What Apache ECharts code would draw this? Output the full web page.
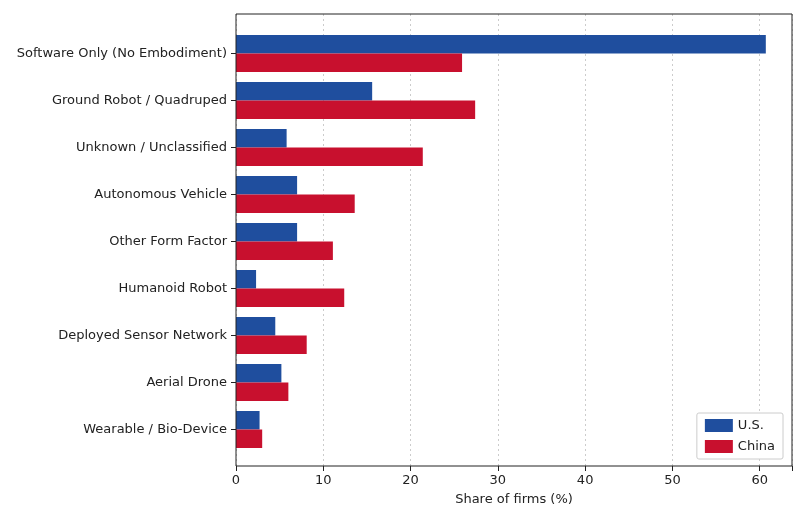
<!DOCTYPE html>
<html><head><meta charset="utf-8">
<script src="https://cdn.jsdelivr.net/npm/echarts@6/dist/echarts.min.js"></script>
<style>html,body{margin:0;background:#fff}#c{width:807px;height:527px}</style>
</head><body><div id="c"></div>
<script>
const categories=["Software Only (No Embodiment)","Ground Robot / Quadruped","Unknown / Unclassified","Autonomous Vehicle","Other Form Factor","Humanoid Robot","Deployed Sensor Network","Aerial Drone","Wearable / Bio-Device"];
const usValues=[60.7,15.6,5.8,7.0,7.0,2.3,4.5,5.2,2.7];
const chinaValues=[25.9,27.4,21.4,13.6,11.1,12.4,8.1,6.0,3.0];
const xTicks=[0,10,20,30,40,50,60];
const chart=echarts.init(document.getElementById('c'));
const font='DejaVu Sans';
const lab={fontFamily:font,fontSize:13,color:'#222'};
chart.setOption({
 animation:false,
 textStyle:{fontFamily:font},
 grid:[
  {left:236,right:15,top:30,bottom:74},
  {left:236,right:15,top:14,bottom:61,show:true,borderColor:'#222',borderWidth:1,z:10,backgroundColor:'transparent'}
 ],
 legend:{data:['U.S.','China'],orient:'vertical',right:24,bottom:68,icon:'rect',itemWidth:28,itemHeight:13,itemGap:8,
  textStyle:lab,borderColor:'#ccc',borderWidth:1,borderRadius:2,padding:[6,8],backgroundColor:'#fff'},
 xAxis:[
  {gridIndex:0,type:'value',min:0,max:63.7,show:false},
  {gridIndex:1,type:'value',min:0,max:63.7,interval:10,name:'Share of firms (%)',nameLocation:'middle',nameGap:27,
   nameTextStyle:lab,axisLabel:{...lab,formatter:v=>xTicks.includes(v)?String(v):''},
   axisLine:{show:false},axisTick:{show:true,length:5,lineStyle:{color:'#222'}},
   splitLine:{show:true,lineStyle:{color:'#ccc',type:[2,3]}}}
 ],
 yAxis:[
  {gridIndex:0,type:'category',data:categories,inverse:true,
   axisLabel:{...lab,margin:9},axisLine:{show:false},
   axisTick:{show:true,length:5,alignWithLabel:true,lineStyle:{color:'#222'}}},
  {gridIndex:1,type:'value',show:false,min:0,max:1}
 ],
 series:[
  {name:'U.S.',type:'bar',xAxisIndex:0,yAxisIndex:0,data:usValues,barWidth:18.5,barGap:'0%',itemStyle:{color:'#1f4e9e'}},
  {name:'China',type:'bar',xAxisIndex:0,yAxisIndex:0,data:chinaValues,barWidth:18.5,itemStyle:{color:'#c8102e'}}
 ]
});
</script></body></html>
